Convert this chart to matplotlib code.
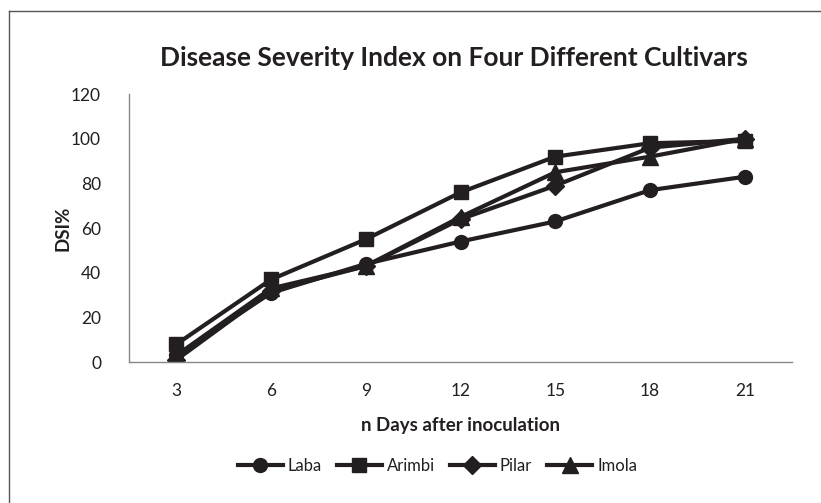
import matplotlib.pyplot as plt
from matplotlib.lines import Line2D

days = ['3', '6', '9', '12', '15', '18', '21']
laba = [3, 31, 44, 54, 63, 77, 83]
arimbi = [8, 37, 55, 76, 92, 98, 99]
pilar = [1, 32, 43, 64, 79, 96, 100]
imola = [3, 33, 43, 65, 85, 92, 100]

plt.rcParams['font.family'] = ['Lato', 'DejaVu Sans']

fig = plt.figure(figsize=(8.21, 5.03), dpi=100)
ax = fig.add_axes([0.157, 0.280, 0.808, 0.533])

x = range(len(days))
col = '#231f20'
ax.plot(x, laba, '-o', color=col, lw=3, ms=10, label='Laba')
ax.plot(x, arimbi, '-s', color=col, lw=3, ms=10, label='Arimbi')
ax.plot(x, pilar, '-D', color=col, lw=3, ms=9, label='Pilar')
ax.plot(x, imola, '-^', color=col, lw=3, ms=11, label='Imola')

ax.set_xlim(-0.5, len(days) - 0.5)
ax.set_ylim(0, 120)
ax.set_yticks(range(0, 121, 20))
ax.set_xticks(list(x))
ax.set_xticklabels(days)
ax.tick_params(axis='x', length=0, labelsize=12.5, colors=col, pad=15)
ax.tick_params(axis='y', length=0, labelsize=12.5, colors=col, pad=20)
for s in ['top', 'right']:
    ax.spines[s].set_visible(False)
for s in ['left', 'bottom']:
    ax.spines[s].set_color('#888888')
    ax.spines[s].set_linewidth(1)

ax.set_xlabel('n Days after inoculation', fontsize=13.5, fontweight='bold', labelpad=13, color=col)
ax.set_ylabel('DSI%', fontsize=13.5, fontweight='bold', labelpad=0, color=col)
fig.text(0.553, 0.885, 'Disease Severity Index on Four Different Cultivars',
         ha='center', va='center', fontsize=19, fontweight='bold', color=col)

ax.legend(loc='upper center', bbox_to_anchor=(0.465, -0.3), ncol=4, frameon=False,
          fontsize=12, handlelength=2.7, columnspacing=0.9, handletextpad=0.3,
          labelcolor=col)

# partial border (top and left edges)
fig.add_artist(Line2D([9/821, 1], [1 - 11/503, 1 - 11/503], color='#555555', lw=1))
fig.add_artist(Line2D([9/821, 9/821], [0, 1 - 11/503], color='#555555', lw=1))

fig.savefig('out.png', dpi=100)
